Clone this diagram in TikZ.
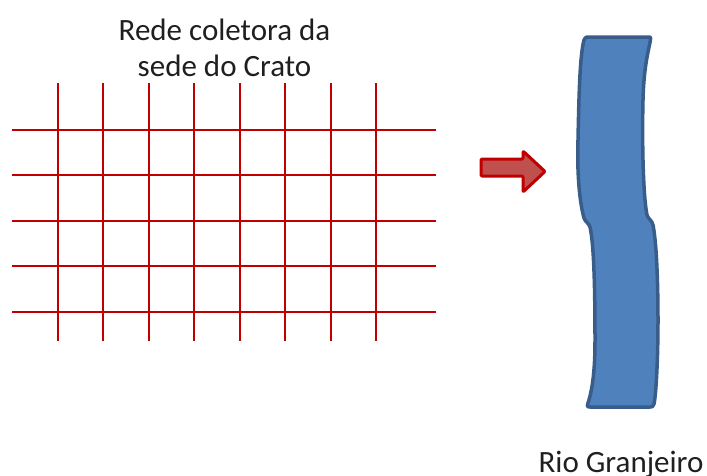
\documentclass[tikz,border=0pt]{standalone}
\usepackage{fontspec}
\setmainfont{Carlito}
\definecolor{gridred}{RGB}{192,0,0}
\definecolor{arrowfill}{RGB}{192,80,77}
\definecolor{riverfill}{RGB}{79,129,189}
\definecolor{riverline}{RGB}{56,93,138}
\tikzset{
  gridline/.style={draw=gridred, line width=2.5pt},
  label/.style={font=\fontsize{31}{36}\selectfont, inner sep=0pt, anchor=base, text=black!88},
  flowarrow/.style={fill=arrowfill, draw=gridred, line width=3pt, line join=round, rounded corners=1pt},
  river/.style={fill=riverfill, draw=riverline, line width=3.5pt, line join=round}
}
\begin{document}
\begin{tikzpicture}[x=1pt,y=-1pt]
\useasboundingbox (0,0) rectangle (707,475);
% grid
\foreach \x in {58,103,149,194,240,285,331,376}
  \draw[gridline] (\x,83) -- (\x,341);
\foreach \y in {130,175,221,266,312}
  \draw[gridline] (12,\y) -- (436,\y);
% title
\node[label] (t1) at (224.5,40) {Rede coletora da};
\node[label] (t2) at (224.5,76) {sede do Crato};
% arrow
\path[flowarrow] (481,159) -- (523,159) -- (523,151) -- (545,171.5) -- (523,192) -- (523,176) -- (481,176) -- cycle;
% river
\path[river] (587,37) -- (650,37)
  .. controls (653,38) and (644,55) .. (643,100)
  .. controls (642,140) and (643,195) .. (647,215)
  .. controls (648,219) and (652,220) .. (653,225)
  .. controls (657,245) and (658,290) .. (658,320)
  .. controls (658,360) and (656,395) .. (654,404)
  .. controls (653,407) and (652,407) .. (650,407)
  -- (590,407)
  .. controls (587,407) and (587,406) .. (588,403)
  .. controls (594,385) and (595,360) .. (595,340)
  .. controls (595,290) and (594,245) .. (590,227)
  .. controls (589,223) and (585,222) .. (584,218)
  .. controls (579,200) and (577,170) .. (578,140)
  .. controls (579,90) and (580,55) .. (584,40)
  .. controls (585,38) and (586,37) .. (587,37) -- cycle;
\node[label] (rio) at (621,472) {Rio Granjeiro};
\end{tikzpicture}
\end{document}
